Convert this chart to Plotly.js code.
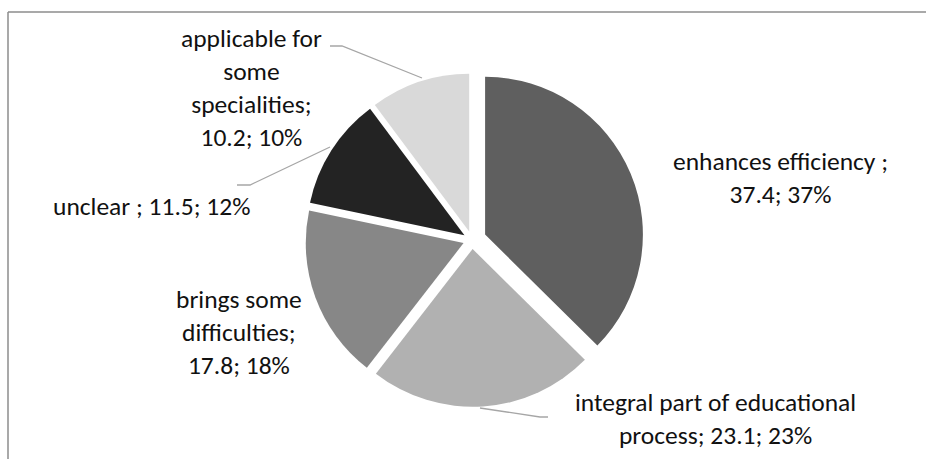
<!DOCTYPE html>
<html>
<head>
<meta charset="utf-8">
<script src="https://cdn.plot.ly/plotly-3.0.1.min.js"></script>
<style>
  html, body { margin: 0; padding: 0; background: #ffffff; }
  #chart { width: 926px; height: 459px; }
</style>
</head>
<body>
<div id="chart"></div>
<script>
// ---- data ----
const categories = [
  "enhances efficiency",
  "integral part of educational process",
  "brings some difficulties",
  "unclear",
  "applicable for some specialities"
];
const values = [37.4, 23.1, 17.8, 11.5, 10.2];
// category text as written on the chart (with its line breaks)
const labelNames = [
  "enhances efficiency ;",
  "integral part of educational<br>process;",
  "brings some<br>difficulties;",
  "unclear ;",
  "applicable for<br>some<br>specialities;"
];
const sliceColors = ["#5f5f5f", "#b1b1b1", "#878787", "#232323", "#d9d9d9"];

// ---- layout helpers ----
const W = 926, H = 459;
const px = x => x / W;
const py = y => 1 - y / H;

const total = values.reduce((a, b) => a + b, 0);
const pct = values.map(v => Math.round(v / total * 100) + "%");
const seps = ["<br>", " ", "<br>", " ", "<br>"];
const labelText = labelNames.map((n, i) => n + seps[i] + values[i] + "; " + pct[i]);
const labelPos = [[780, 178], [715, 419], [239, 332], [151, 206], [251, 88]];

const FONT = "Carlito, Calibri, Lato, 'Open Sans', sans-serif";

const annotations = labelText.map((t, i) => ({
  text: t,
  x: px(labelPos[i][0]), y: py(labelPos[i][1]),
  xref: "paper", yref: "paper",
  xanchor: "center", yanchor: "middle",
  align: "center",
  showarrow: false,
  font: { family: FONT, size: 25.5, color: "#111111" }
}));

const leader = (pts) => ({
  type: "path", xref: "paper", yref: "paper",
  path: pts.map((p, i) => (i ? "L" : "M") + px(p[0]) + "," + py(p[1])).join(" "),
  line: { color: "#a6a6a6", width: 1.3 }
});

const shapes = [
  // chart frame
  { type: "line", xref: "paper", yref: "paper", x0: px(8), x1: px(926), y0: py(12), y1: py(12),
    line: { color: "#8c8c8c", width: 1.5 } },
  { type: "line", xref: "paper", yref: "paper", x0: px(8), x1: px(8), y0: py(12), y1: py(459),
    line: { color: "#8c8c8c", width: 1.5 } },
  // leader lines
  leader([[330, 46], [342, 46], [422, 78]]),
  leader([[237, 185], [250, 185], [330, 147]]),
  leader([[480, 408], [540, 417], [548, 417]])
];

const cx = 472, cy = 240, half = 172;
const trace = {
  type: "pie",
  labels: categories,
  values: values,
  sort: false,
  direction: "clockwise",
  rotation: 0,
  pull: [0.09, 0.057, 0.057, 0.057, 0.057],
  marker: { colors: sliceColors, line: { color: "#ffffff", width: 0 } },
  textinfo: "none",
  hoverinfo: "skip",
  domain: { x: [px(cx - half), px(cx + half)], y: [py(cy + half), py(cy - half)] }
};

const layout = {
  width: W, height: H,
  margin: { l: 0, r: 0, t: 0, b: 0 },
  paper_bgcolor: "#ffffff",
  showlegend: false,
  annotations: annotations,
  shapes: shapes
};

Plotly.newPlot("chart", [trace], layout, { staticPlot: true, displayModeBar: false });
</script>
</body>
</html>
